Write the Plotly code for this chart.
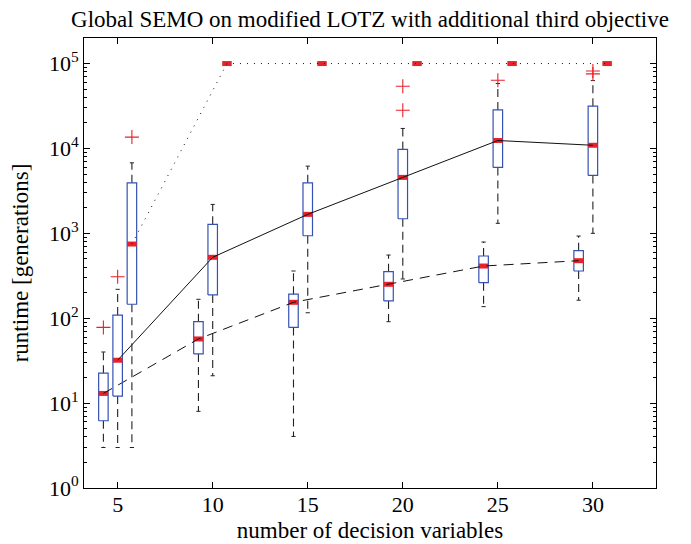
import plotly.graph_objects as go
import math

# ---------------- data ----------------
groups = [5, 10, 15, 20, 25, 30]
x_ticks = [5, 10, 15, 20, 25, 30]
y_tick_vals = [1, 10, 100, 1000, 10000, 100000]
y_tick_text = ["10<sup>0</sup>", "10<sup>1</sup>", "10<sup>2</sup>",
               "10<sup>3</sup>", "10<sup>4</sup>", "10<sup>5</sup>"]

# series A (dashed median line, left of each group)
A_lower = [3.0, 8.0, 4.05, 91, 137, 163]
A_q1 = [6.2, 38, 78, 160, 262, 360]
A_med = [13, 57, 154, 251, 412, 476]
A_q3 = [22.5, 91, 192, 353, 541, 625]
A_upper = [40, 167, 360, 555, 790, 929]
A_outliers = [[78], [], [], [], [], []]

# series B (solid median line, centre of each group)
B_lower = [3.0, 21, 116, 290, 1312, 1000]
B_q1 = [12.1, 188, 937, 1485, 5970, 4810]
B_med = [32, 522, 1673, 4560, 12400, 10900]
B_q3 = [109, 1277, 3940, 9730, 28400, 31500]
B_upper = [219, 2190, 6190, 17200, 58200, 63000]
B_outliers = [[308], [], [], [28200, 54000], [63700], [75500, 81800]]

# series C (dotted median line, right of each group; capped at 1e5)
C_lower = [3.0, 100000, 100000, 100000, 100000, 100000]
C_q1 = [146, 100000, 100000, 100000, 100000, 100000]
C_med = [748, 100000, 100000, 100000, 100000, 100000]
C_q3 = [3940, 100000, 100000, 100000, 100000, 100000]
C_upper = [6770, 100000, 100000, 100000, 100000, 100000]
C_outliers = [[13600], [], [], [], [], []]

# ---------------- style ----------------
BOX_BLUE = "#3552b2"
MED_RED = "#e8222a"
WHISK = "#222222"
FONT = "Liberation Serif, Times New Roman, serif"
half_w = 0.25
cap_w = 0.11

series = [
    dict(off=-0.75, lo=A_lower, q1=A_q1, med=A_med, q3=A_q3, up=A_upper, out=A_outliers, dash="10px,7px"),
    dict(off=0.0, lo=B_lower, q1=B_q1, med=B_med, q3=B_q3, up=B_upper, out=B_outliers, dash="solid"),
    dict(off=0.75, lo=C_lower, q1=C_q1, med=C_med, q3=C_q3, up=C_upper, out=C_outliers, dash="1px,6px"),
]

fig = go.Figure()

for s in series:
    pos = [g + s["off"] for g in groups]
    wx, wy, cx, cy = [], [], [], []
    bx, by = [], []
    mx, my = [], []
    ox, oy = [], []
    for i, p in enumerate(pos):
        if s["up"][i] > s["q3"][i]:
            wx += [p, p, None]
            wy += [s["q3"][i], s["up"][i], None]
        if s["lo"][i] < s["q1"][i]:
            wx += [p, p, None]
            wy += [s["q1"][i], s["lo"][i], None]
        if s["up"][i] > s["q3"][i] or s["lo"][i] < s["q1"][i]:
            cx += [p - cap_w, p + cap_w, None, p - cap_w, p + cap_w, None]
            cy += [s["up"][i], s["up"][i], None, s["lo"][i], s["lo"][i], None]
        if s["q3"][i] > s["q1"][i]:
            bx += [p - half_w, p + half_w, p + half_w, p - half_w, p - half_w, None]
            by += [s["q1"][i], s["q1"][i], s["q3"][i], s["q3"][i], s["q1"][i], None]
        mx += [p - half_w, p + half_w, None]
        my += [s["med"][i], s["med"][i], None]
        for o in s["out"][i]:
            ox.append(p)
            oy.append(o)
    fig.add_trace(go.Scatter(x=wx, y=wy, mode="lines",
                             line=dict(color=WHISK, width=1.1, dash="8px,5px"),
                             hoverinfo="skip", showlegend=False))
    fig.add_trace(go.Scatter(x=cx, y=cy, mode="lines",
                             line=dict(color=WHISK, width=1),
                             hoverinfo="skip", showlegend=False))
    fig.add_trace(go.Scatter(x=bx, y=by, mode="lines",
                             line=dict(color=BOX_BLUE, width=1.2),
                             hoverinfo="skip", showlegend=False))
    fig.add_trace(go.Scatter(x=mx, y=my, mode="lines",
                             line=dict(color=MED_RED, width=5),
                             hoverinfo="skip", showlegend=False))
    fig.add_trace(go.Scatter(x=ox, y=oy, mode="markers",
                             marker=dict(symbol="cross-thin", size=10,
                                         line=dict(color=MED_RED, width=1.1)),
                             hoverinfo="skip", showlegend=False))
    fig.add_trace(go.Scatter(x=pos, y=s["med"], mode="lines",
                             line=dict(color="#111", width=1, dash=s["dash"]),
                             hoverinfo="skip", showlegend=False))

# the page adds an 8 px body margin, so the figure is sized 8 px smaller
fig.update_layout(
    width=683, height=536,
    margin=dict(l=76, r=35, t=30, b=56, autoexpand=False),
    paper_bgcolor="white", plot_bgcolor="white",
    font=dict(family=FONT, color="black", size=22),
    title=dict(text="Global SEMO on modified LOTZ with additional third objective",
               x=0.5, xref="paper", xanchor="center", y=0.979, yref="container",
               yanchor="middle",
               font=dict(family=FONT, size=23, color="black")),
    showlegend=False,
)
fig.update_xaxes(
    range=[3.23, 33.32], tickvals=x_ticks, ticktext=[str(t) for t in x_ticks],
    ticks="inside", ticklen=6, tickcolor="black", showline=True, linecolor="black",
    linewidth=1, mirror="ticks", showgrid=False, zeroline=False, automargin=False,
    tickfont=dict(family=FONT, size=22), ticklabelstandoff=-3,
    title=dict(text="number of decision variables", standoff=5,
               font=dict(family=FONT, size=23)),
)
fig.update_yaxes(
    type="log", range=[0, math.log10(2e5)], tickvals=y_tick_vals, ticktext=y_tick_text,
    ticks="inside", ticklen=6, tickcolor="black", showline=True, linecolor="black",
    linewidth=1, mirror="ticks", showgrid=False, zeroline=False, automargin=False,
    minor=dict(ticks="inside", ticklen=3, tickcolor="black", dtick="D1", showgrid=False),
    tickfont=dict(family=FONT, size=22),
    title=dict(text="runtime [generations]", standoff=13,
               font=dict(family=FONT, size=23)),
)

fig.write_html("out.html")
